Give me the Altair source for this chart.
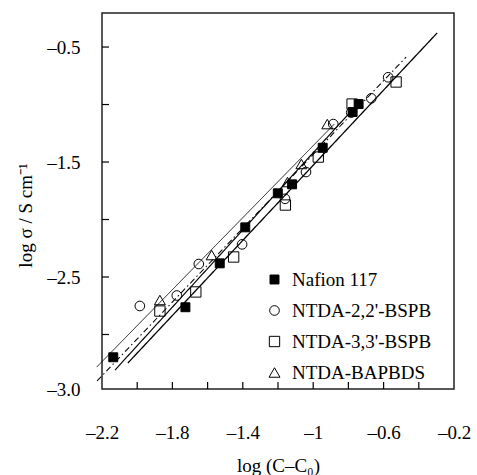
import altair as alt
import pandas as pd

# ---- data ----
series_names = ["Nafion 117", "NTDA-2,2'-BSPB", "NTDA-3,3'-BSPB", "NTDA-BAPBDS"]

naf_x = [-2.136, -1.726, -1.531, -1.386, -1.201, -1.120, -0.946, -0.776, -0.742]
naf_y = [-3.198, -2.763, -2.381, -2.068, -1.772, -1.694, -1.376, -1.065, -0.996]
b22_x = [-1.985, -1.775, -1.650, -1.404, -1.160, -1.041, -0.886, -0.784, -0.670, -0.574]
b22_y = [-2.752, -2.661, -2.387, -2.216, -1.820, -1.587, -1.170, -1.070, -0.946, -0.763]
b33_x = [-1.871, -1.667, -1.452, -1.158, -0.971, -0.779, -0.529]
b33_y = [-2.796, -2.630, -2.326, -1.874, -1.457, -0.996, -0.804]
bap_x = [-1.871, -1.577, -1.146, -1.067, -0.920]
bap_y = [-2.700, -2.309, -1.674, -1.517, -1.170]

fit_names = ["L1", "L2", "L3", "L4"]
fit_x0 = [-2.230, -2.228, -2.126, -2.053]
fit_y0 = [-3.283, -3.404, -3.309, -3.248]
fit_x1 = [-0.880, -0.472, -0.727, -0.296]
fit_y1 = [-1.170, -0.587, -0.961, -0.378]

x_tick_labels = [-2.2, -1.8, -1.4, -1.0, -0.6, -0.2]
x_minor_ticks = [-2.0, -1.8, -1.6, -1.4, -1.2, -1.0, -0.8, -0.6, -0.4]
y_tick_labels = [-0.5, -1.5, -2.5, -3.474]
y_minor_ticks = [-0.5, -1.0, -1.5, -2.0, -2.5, -3.0]

x_domain = [-2.2, -0.2]
y_domain = [-3.474, -0.204]

# ---- tables ----
rows = []
for name, xs, ys in zip(series_names, [naf_x, b22_x, b33_x, bap_x], [naf_y, b22_y, b33_y, bap_y]):
    for a, b in zip(xs, ys):
        rows.append({"series": name, "x": a, "y": b})
pts = pd.DataFrame(rows)
fits = pd.DataFrame({"fit": fit_names, "x0": fit_x0, "y0": fit_y0, "x1": fit_x1, "y1": fit_y1})
xt = pd.DataFrame({"v": x_minor_ticks})
yt = pd.DataFrame({"v": y_minor_ticks})

FONT = "Liberation Serif, Times New Roman, Times, serif"
W, H = 352, 376

xscale = alt.Scale(domain=x_domain, nice=False, zero=False)
yscale = alt.Scale(domain=y_domain, nice=False, zero=False)

xaxis = alt.Axis(
    title="log (C\u2013C\u2080)", values=x_tick_labels, ticks=False, tickSize=0, domain=False, grid=False,
    labelExpr="abs(datum.value + 1) < 0.001 ? '\u20131' : '\u2013' + format(abs(datum.value), '.1f')",
    labelPadding=34, labelFlush=False, titleX=176, titleY=82, titleAlign="center",
    titleBaseline="alphabetic",
)
yaxis = alt.Axis(
    title="log \u03c3 / S cm\u207b\u00b9", values=y_tick_labels, ticks=False, tickSize=0, domain=False, grid=False,
    labelExpr="datum.value < -3.2 ? '\u20133.0' : '\u2013' + format(abs(datum.value), '.1f')",
    labelPadding=22, titleAngle=270, titleX=-71, titleY=202, titleAlign="center",
    titleBaseline="alphabetic",
)

lines = alt.Chart(fits).mark_rule(color="black").encode(
    x=alt.X("x0:Q", scale=xscale, axis=xaxis),
    y=alt.Y("y0:Q", scale=yscale, axis=yaxis),
    x2="x1:Q",
    y2="y1:Q",
    strokeDash=alt.StrokeDash("fit:N", scale=alt.Scale(domain=fit_names, range=[[1, 0], [6, 3, 1.5, 3], [1, 0], [1, 0]]), legend=None),
    strokeWidth=alt.StrokeWidth("fit:N", scale=alt.Scale(domain=fit_names, range=[0.9, 1.3, 1.5, 0.9]), legend=None),
)

legend = alt.Legend(
    title=None, orient="none", legendX=163, legendY=257, padding=0,
    labelFont=FONT, labelFontSize=19, labelColor="black", labelOffset=8,
    rowPadding=11, symbolStrokeColor="black", symbolStrokeWidth=1,
)

points = alt.Chart(pts).mark_point(filled=False, strokeWidth=1, opacity=1).encode(
    x=alt.X("x:Q", scale=xscale, axis=xaxis),
    y=alt.Y("y:Q", scale=yscale, axis=yaxis),
    shape=alt.Shape("series:N", scale=alt.Scale(domain=series_names, range=["square", "circle", "square", "triangle-up"]), legend=legend),
    fill=alt.Fill("series:N", scale=alt.Scale(domain=series_names, range=["black", "transparent", "transparent", "transparent"]), legend=legend),
    stroke=alt.Stroke("series:N", scale=alt.Scale(domain=series_names, range=["black", "black", "black", "black"]), legend=legend),
    size=alt.Size("series:N", scale=alt.Scale(domain=series_names, range=[80, 120, 68, 85]), legend=legend),
)

xticks = alt.Chart(xt).mark_rule(color="black", strokeWidth=1.2).encode(
    x=alt.X("v:Q", scale=xscale, axis=xaxis),
    y=alt.value(H),
    y2=alt.value(H - 7),
)
yticks = alt.Chart(yt).mark_rule(color="black", strokeWidth=1.2).encode(
    y=alt.Y("v:Q", scale=yscale, axis=yaxis),
    x=alt.value(0),
    x2=alt.value(7),
)

chart = alt.layer(lines, points, xticks, yticks).properties(
    width=W, height=H,
    autosize=alt.AutoSizeParams(type="none"),
    padding={"left": 102, "top": 13, "right": 23, "bottom": 86},
    background="white",
).configure_view(
    stroke="#222", strokeWidth=1.5,
).configure_axis(
    labelFont=FONT, labelFontSize=19, labelColor="black",
    titleFont=FONT, titleFontSize=19, titleFontWeight="normal", titleColor="black",
)

chart.save("out.html", embed_options={"renderer": "svg", "actions": False})
